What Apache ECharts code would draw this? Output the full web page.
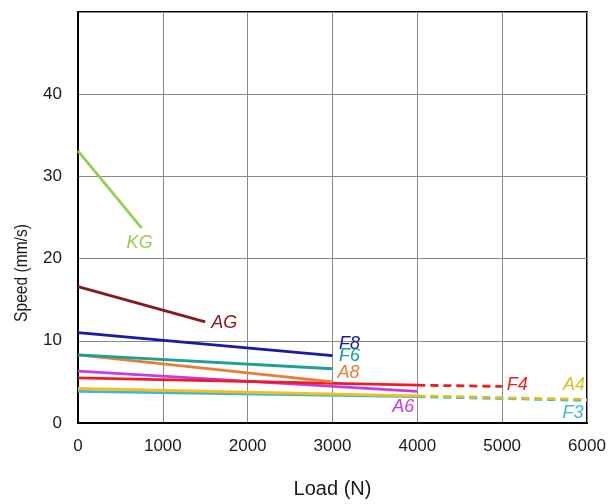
<!DOCTYPE html>
<html>
<head>
<meta charset="utf-8">
<script src="https://cdn.jsdelivr.net/npm/echarts@6/dist/echarts.min.js"></script>
<style>
  html, body { margin: 0; padding: 0; background: #fff; }
  #chart { width: 610px; height: 504px; }
</style>
</head>
<body>
<div id="chart"></div>
<script>
  // series values: [load (N), speed (mm/s)]
  const kgData = [[0, 33.1], [750, 23.7]];
  const agData = [[0, 16.6], [1500, 12.3]];
  const f8Data = [[0, 11.0], [3000, 8.2]];
  const f6Data = [[0, 8.3], [3000, 6.6]];
  const a8Data = [[0, 8.3], [3000, 5.0]];
  const f4Data = [[0, 5.5], [4000, 4.6]];
  const f4Dashed = [[4000, 4.6], [5000, 4.45]];
  const a6Data = [[0, 6.3], [4000, 3.85]];
  const a4Data = [[0, 4.2], [4000, 3.3]];
  const a4Dashed = [[4000, 3.3], [6000, 2.85]];
  const f3Data = [[0, 3.85], [4000, 3.2]];
  const f3Dashed = [[4000, 3.2], [6000, 2.75]];

  const xTicks = [0, 1000, 2000, 3000, 4000, 5000, 6000];
  const yTicks = [0, 10, 20, 30, 40];

  const chart = echarts.init(document.getElementById('chart'));
  const font = 'Liberation Sans, Arial, sans-serif';

  function line(name, data, color, labelOffset, dashed) {
    return {
      name: name,
      type: 'line',
      data: data,
      symbol: 'none',
      silent: true,
      lineStyle: { color: color, width: 2.8, type: dashed ? [8, 5] : 'solid' },
      endLabel: labelOffset ? {
        show: true,
        formatter: name,
        color: color,
        fontSize: 18,
        fontStyle: 'italic',
        fontFamily: font,
        align: 'center',
        verticalAlign: 'middle',
        distance: 0,
        offset: labelOffset,
      } : { show: false },
    };
  }

  const option = {
    animation: false,
    grid: {
      left: 78,
      right: 23,
      top: 12,
      bottom: 80,
      show: true,
      borderColor: '#000',
      borderWidth: 2,
    },
    xAxis: {
      type: 'value',
      min: 0,
      max: 6000,
      interval: 1000,
      name: 'Load (N)',
      nameLocation: 'middle',
      nameGap: 56,
      nameTextStyle: { color: '#1a1a1a', fontSize: 20, fontFamily: font },
      axisLine: { lineStyle: { color: '#000', width: 2 } },
      axisTick: { show: false },
      axisLabel: {
        color: '#1a1a1a',
        fontSize: 17,
        fontFamily: font,
        margin: 15,
        formatter: (v) => (xTicks.includes(v) ? String(v) : ''),
      },
      splitLine: { lineStyle: { color: '#8a8a8a', width: 1 } },
    },
    yAxis: {
      type: 'value',
      min: 0,
      max: 50,
      interval: 10,
      axisLine: { show: true, lineStyle: { color: '#000', width: 2 } },
      axisTick: { show: false },
      axisLabel: {
        color: '#1a1a1a',
        fontSize: 17,
        fontFamily: font,
        margin: 16,
        formatter: (v) => (yTicks.includes(v) ? String(v) : ''),
      },
      splitLine: { lineStyle: { color: '#8a8a8a', width: 1 } },
    },
    graphic: [
      {
        type: 'text',
        x: 22,
        y: 273,
        rotation: Math.PI / 2,
        scaleX: 0.82,
        style: {
          text: 'Speed (mm/s)',
          fill: '#1a1a1a',
          fontSize: 19,
          fontFamily: font,
          align: 'center',
          verticalAlign: 'middle',
        },
      },
    ],
    series: [
      line('F3', f3Data, '#3fb6d8'),
      line('F3', f3Dashed, '#3fb6d8', [-14, 13], true),
      line('A4', a4Data, '#f2c01e'),
      line('A4', a4Dashed, '#d8bf2a', [-13, -15], true),
      line('A6', a6Data, '#c63be6', [-14, 16]),
      line('F4', f4Data, '#ee1c24'),
      line('F4', f4Dashed, '#ee1c24', [15, -1], true),
      line('A8', a8Data, '#e67e35', [16, -9]),
      line('F6', f6Data, '#1f9e94', [17, -13]),
      line('F8', f8Data, '#1a1aa6', [17, -12]),
      line('AG', agData, '#841b1b', [19, 1]),
      line('KG', kgData, '#92d050', [-2, 15]),
    ],
  };

  chart.setOption(option);
</script>
</body>
</html>
